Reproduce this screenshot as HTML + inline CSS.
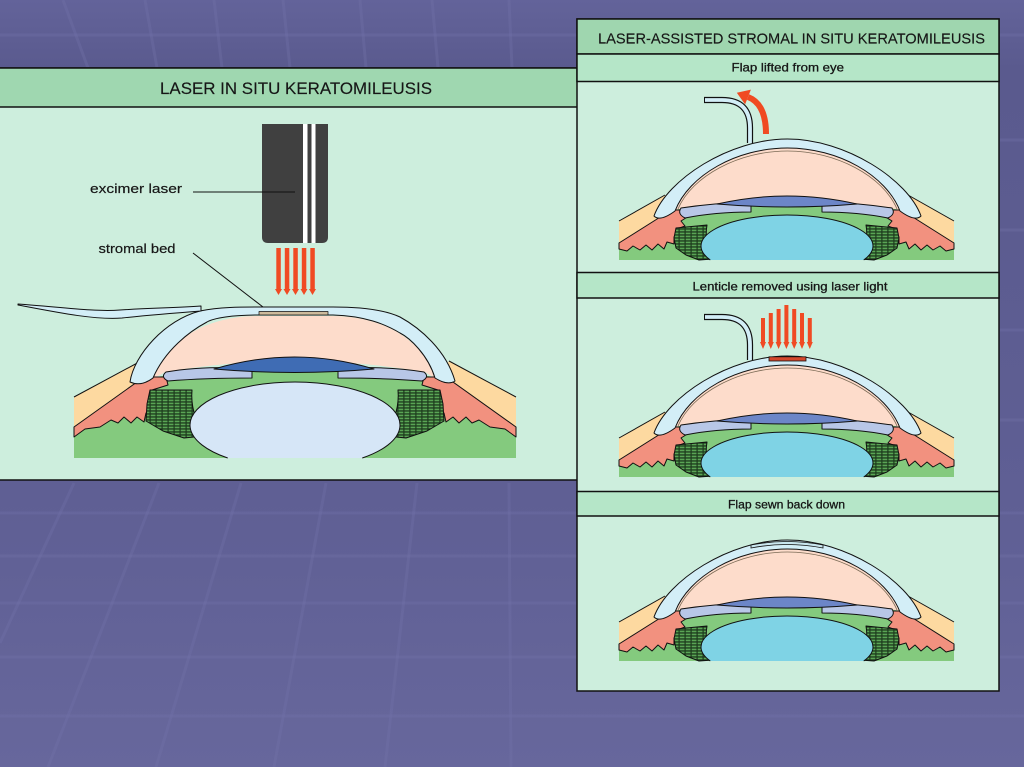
<!DOCTYPE html>
<html><head><meta charset="utf-8">
<style>
html,body{margin:0;padding:0;background:#5f5f95;overflow:hidden;}
svg{display:block;}
text{font-family:"Liberation Sans",sans-serif;fill:#161616;}
</style></head>
<body>
<svg width="1024" height="767" viewBox="0 0 1024 767" xmlns="http://www.w3.org/2000/svg">
<defs>
<linearGradient id="bg" x1="0" y1="0" x2="0" y2="1">
<stop offset="0" stop-color="#63639a"/>
<stop offset="0.09" stop-color="#5a5a8e"/>
<stop offset="0.65" stop-color="#5f5f94"/>
<stop offset="1" stop-color="#67679c"/>
</linearGradient>
<pattern id="mesh" width="6" height="3" patternUnits="userSpaceOnUse">
<rect width="6" height="3" fill="#1c3a1c"/>
<rect x="0.7" y="0.6" width="4.8" height="1.7" fill="#5aa555"/>
</pattern>
<g id="sideR">
<path d="M0,91 L46,65 L58,82 L0,114 Z" fill="#fdd9a0" stroke="none"/>
<path d="M0,91 L46,65" fill="none"/>
<path d="M0,113 L46,84 L52,80 L66,80 L70,86 L62,91 L66,96 L58,99 L62,104 L55,107 L55,114 L48,112 L45,119 L39,114 L33,120 L27,115 L21,120 L14,116 L8,121 L0,119 Z" fill="#f2917f"/>
<path d="M57,98 L88,95 Q85,112 94,129 L80,130 L67,125 L57,118 L55,108 Z" fill="url(#mesh)"/>
<path d="M62,78 Q95,73 132,72 L132,82 Q96,82 66,88 Q58,84 62,78 Z" fill="#b8c7e7"/>
</g>
<g id="eyeR" stroke="#111" stroke-width="1" stroke-linejoin="round">
<path d="M0,130 L0,106 L48,80 Q168,62 288,80 L335,106 L335,130 Z" fill="#84ca7e" stroke="none"/>
<path d="M54,84 L56,81 C70,45 118,18 168.5,18 C219,18 267,45 281,81 L284,84 L282,80 Q168,60 54,80 Z" fill="#fddccb" stroke="none"/>
<use href="#sideR"/>
<use href="#sideR" transform="matrix(-1 0 0 1 335 0)"/>
<path d="M91.3,130 A86,31 0 1,1 244.7,130" fill="#7fd3e5"/>
<path d="M98,74 Q168,58 238,74 Q168,80 98,74 Z" fill="#6c86c8"/>
<path d="M35,86 C48,50 110,9 168.5,9 C227,9 289,50 302,86 Q296,92 281,81 C267,45 219,18 168.5,18 C118,18 70,45 56,81 Q41,92 35,86 Z" fill="#d3eef7"/>
<path d="M59,79 C73,46 120,21 168.5,21 C217,21 264,46 278,79" fill="none" stroke="#7a6a55" stroke-width="0.8"/>
</g>
</defs>

<!-- background -->
<rect width="1024" height="767" fill="url(#bg)"/>
<g stroke="#7474a8" stroke-opacity="0.35" stroke-width="3" fill="none">
<path d="M0,35 H1024 M0,513 H1024 M0,556 H1024 M0,603 H1024 M0,657 H1024 M0,716 H1024"/>
<path d="M74,483 L0,643 M159,483 L48,767 M241,483 L156,767 M326,483 L274,767 M417,483 L385,767 M509,483 L511,767"/>
<path d="M63,0 L88,68 M145,0 L157,68 M214,0 L222,68 M283,0 L290,68 M360,0 L366,68 M432,0 L438,68 M509,0 L512,68"/>
<path d="M1000,140 H1024 M1000,230 H1024 M1000,330 H1024 M1000,420 H1024"/>
</g>

<!-- LEFT PANEL -->
<rect x="-2" y="68" width="580" height="412" fill="#cdeedd" stroke="#111" stroke-width="1.5"/>
<rect x="-2" y="68" width="580" height="39" fill="#9fd7b0" stroke="#111" stroke-width="1.5"/>
<text x="160" y="94" font-size="17" textLength="272" lengthAdjust="spacingAndGlyphs" stroke="#161616" stroke-width="0.15">LASER IN SITU KERATOMILEUSIS</text>

<!-- laser -->
<path d="M262,124 L328,124 L328,237 Q328,243 322,243 L268,243 Q262,243 262,237 Z" fill="#404040"/>
<rect x="303" y="124" width="4.5" height="119" fill="#ffffff"/>
<rect x="311.5" y="124" width="4" height="119" fill="#ffffff"/>
<g fill="#f04a23">
<rect x="276.3" y="248" width="4.5" height="42"/><polygon points="275,289 282,289 278.5,295"/>
<rect x="284.8" y="248" width="4.5" height="42"/><polygon points="283.5,289 290.5,289 287,295"/>
<rect x="293.3" y="248" width="4.5" height="42"/><polygon points="292,289 299,289 295.5,295"/>
<rect x="301.8" y="248" width="4.5" height="42"/><polygon points="300.5,289 307.5,289 304,295"/>
<rect x="310.3" y="248" width="4.5" height="42"/><polygon points="309,289 316,289 312.5,295"/>
</g>
<text x="90" y="193" font-size="13" textLength="92" lengthAdjust="spacingAndGlyphs" stroke="#161616" stroke-width="0.2">excimer laser</text>
<text x="98.5" y="253" font-size="13" textLength="77" lengthAdjust="spacingAndGlyphs" stroke="#161616" stroke-width="0.2">stromal bed</text>
<path d="M193,192 L295,192 M193,253 L263,307" stroke="#111" stroke-width="1" fill="none"/>

<!-- left eye -->
<g stroke="#111" stroke-width="1" stroke-linejoin="round">
<path d="M74,458 L74,425 L150,378 Q295,352 440,378 L516,425 L516,458 Z" fill="#84ca7e" stroke="none"/>
<path d="M153,379 C165,345 200,316 259,316 L331,316 C390,316 425,345 436,379 L425,372 Q295,350 165,372 Z" fill="#fddccb" stroke="none"/>
<g id="sideL">
<path d="M74,397 L141,361 L152,378 L74,430 Z" fill="#fdd9a0" stroke="none"/>
<path d="M74,397 L141,361" fill="none"/>
<path d="M74,427 L144,377 L166,377 L168,385 L152,390 L157,395 L150,402 L155,407 L146,413 L144,422 L137,417 L131,423 L124,417 L118,423 L111,420 L100,427 L85,429 L74,437 Z" fill="#f2917f"/>
<path d="M150,390 L192,390 Q190,412 204,436 L184,438 L163,431 L146,421 L147,404 Z" fill="url(#mesh)"/>
<path d="M166,372 Q200,366 252,368 L252,378 Q205,378 168,381 Q160,377 166,372 Z" fill="#b8c7e7"/>
</g>
<use href="#sideL" transform="matrix(-1 0 0 1 590 0)"/>
<path d="M227.7,458 A105,43 0 1,1 362.3,458" fill="#d6e6f7"/>
<path d="M214,369 Q295,345 374,369 Q295,376 214,369 Z" fill="#3f6cb4"/>
<path d="M130,382 C134,355 165,320 200,311 C220,307 240,307 259,307 L333,307 C360,307 385,310 400,317 C420,328 446,350 455,381 Q448,386 435,378 C428,355 410,338 400,333 C385,324 365,316 333,315 L259,315 C232,315 214,318 207,322 C190,331 165,350 153,378 Q141,387 130,382 Z" fill="#d3eef7"/>
<rect x="259" y="311.5" width="69" height="3.5" fill="#cdbb9c" stroke-width="0.7"/>
<path d="M18,304 C60,307 95,312 120,310 C150,308 175,308 201,306 L201,311 C175,313 150,315 122,318 C95,320 60,313 18,305 Z" fill="#d3eef7"/>
</g>

<!-- RIGHT PANEL -->
<rect x="577" y="19" width="422" height="672" fill="#cdeedd" stroke="#111" stroke-width="1.5"/>
<rect x="577" y="19" width="422" height="35" fill="#9fd6af" stroke="#111" stroke-width="1.5"/>
<rect x="577" y="54" width="422" height="27.5" fill="#b5e6c8" stroke="#111" stroke-width="1.5"/>
<rect x="577" y="272.5" width="422" height="25.5" fill="#b5e6c8" stroke="#111" stroke-width="1.5"/>
<rect x="577" y="491.5" width="422" height="24.5" fill="#b5e6c8" stroke="#111" stroke-width="1.5"/>
<text x="598" y="43.5" font-size="15" textLength="387" lengthAdjust="spacingAndGlyphs" stroke="#161616" stroke-width="0.15">LASER-ASSISTED STROMAL IN SITU KERATOMILEUSIS</text>
<text x="731.5" y="71.5" font-size="12" textLength="112.5" lengthAdjust="spacingAndGlyphs" stroke="#161616" stroke-width="0.3">Flap lifted from eye</text>
<text x="692.5" y="290.5" font-size="12" textLength="195" lengthAdjust="spacingAndGlyphs" stroke="#161616" stroke-width="0.3">Lenticle removed using laser light</text>
<text x="728" y="508.3" font-size="12" textLength="117" lengthAdjust="spacingAndGlyphs" stroke="#161616" stroke-width="0.3">Flap sewn back down</text>

<!-- eye 1 -->
<use href="#eyeR" transform="translate(619,130)"/>
<path d="M704,100 L722,100 Q750,100 750,128 L750,143" fill="none" stroke="#111" stroke-width="6.2"/>
<path d="M704,100 L722,100 Q750,100 750,128 L750,143" fill="none" stroke="#d3eef7" stroke-width="3.8"/>
<path d="M704.5,97 L704.5,103" stroke="#111" stroke-width="1"/>
<path d="M766,134 Q766,104 748,97" fill="none" stroke="#f04a22" stroke-width="6"/>
<polygon points="736.8,92.7 750.9,89.6 745.1,104.4" fill="#f04a22"/>

<!-- eye 2 -->
<use href="#eyeR" transform="translate(619,347)"/>
<path d="M704,317 L722,317 Q750,317 750,345 L750,360" fill="none" stroke="#111" stroke-width="6.2"/>
<path d="M704,317 L722,317 Q750,317 750,345 L750,360" fill="none" stroke="#d3eef7" stroke-width="3.8"/>
<path d="M704.5,314 L704.5,320" stroke="#111" stroke-width="1"/>
<rect x="769" y="356.8" width="37" height="4.2" fill="#d4472c" stroke="#111" stroke-width="0.8"/>
<g fill="#f04a23">
<rect x="761" y="318" width="4" height="25"/><polygon points="760,342 766,342 763,349"/>
<rect x="768.8" y="313" width="4" height="30"/><polygon points="767.8,342 773.8,342 770.8,349"/>
<rect x="776.6" y="309" width="4" height="34"/><polygon points="775.6,342 781.6,342 778.6,349"/>
<rect x="784.4" y="305" width="4" height="38"/><polygon points="783.4,342 789.4,342 786.4,349"/>
<rect x="792.2" y="309" width="4" height="34"/><polygon points="791.2,342 797.2,342 794.2,349"/>
<rect x="800" y="313" width="4" height="30"/><polygon points="799,342 805,342 802,349"/>
<rect x="807.8" y="318" width="4" height="25"/><polygon points="806.8,342 812.8,342 809.8,349"/>
</g>

<!-- eye 3 -->
<use href="#eyeR" transform="translate(619,531)"/>
<path d="M751,545 Q787,538 823,545 L823,548 Q787,541 751,548 Z" fill="#c9e6ee" stroke="#111" stroke-width="0.8"/>
</svg>
</body></html>
